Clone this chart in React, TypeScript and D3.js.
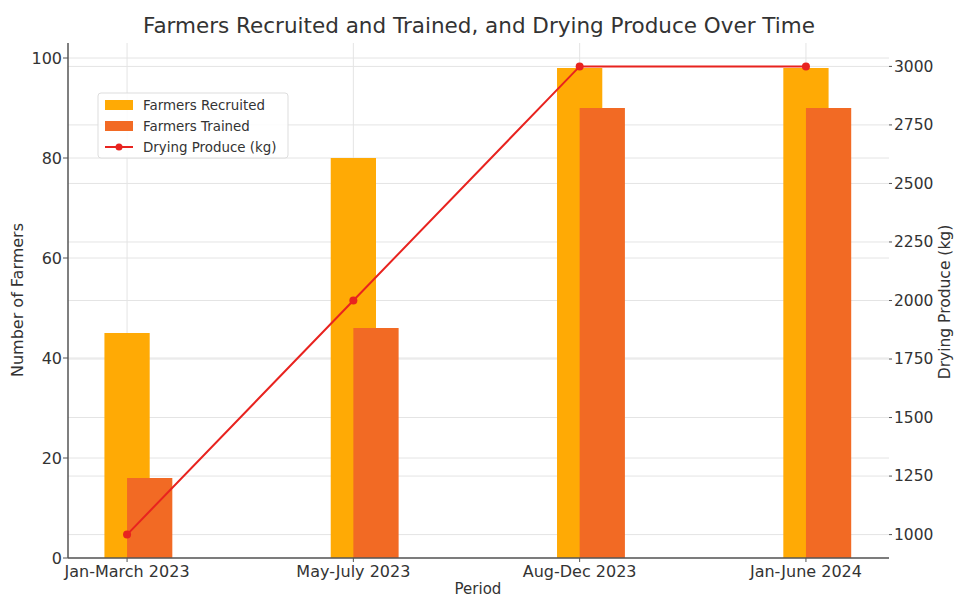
import React from "react";
import * as d3 from "d3";

const categories = ["Jan-March 2023", "May-July 2023", "Aug-Dec 2023", "Jan-June 2024"];
const farmersRecruited = [45, 80, 98, 98];
const farmersTrained = [16, 46, 90, 90];
const dryingProduce = [1000, 2000, 3000, 3000];
const leftTicks = [0, 20, 40, 60, 80, 100];
const rightTicks = [1000, 1250, 1500, 1750, 2000, 2250, 2500, 2750, 3000];

const W = 955;
const H = 597;
const plot = { left: 68, right: 889, top: 43, bottom: 558 };
const FONT = "DejaVu Sans, sans-serif";
const C_REC = "#FFAA05";
const C_TRN = "#F26A24";
const C_LINE = "#E8231F";
const GRID = "#e4e4e4";
const TEXT = "#333";

export default function App() {
  const x = d3.scaleLinear().domain([-0.261, 3.367]).range([plot.left, plot.right]);
  const yL = d3.scaleLinear().domain([0, 103]).range([plot.bottom, plot.top]);
  const yR = d3.scaleLinear().domain([900, 3100]).range([plot.bottom, plot.top]);
  const bw = 0.2;
  const line = d3
    .line<number>()
    .x((_, i) => x(i))
    .y((d) => yR(d));

  return (
    <svg width={W} height={H} style={{ position: "absolute", left: 0, top: 0, background: "#fff" }}>
      <rect x={0} y={0} width={W} height={H} fill="#fff" />
      {/* grids */}
      {categories.map((_, i) => (
        <line key={"vg" + i} x1={x(i)} x2={x(i)} y1={plot.top} y2={plot.bottom} stroke={GRID} strokeWidth={1} />
      ))}
      {leftTicks.map((t) => (
        <line key={"lg" + t} x1={plot.left} x2={plot.right} y1={yL(t)} y2={yL(t)} stroke={GRID} strokeWidth={1} />
      ))}
      {rightTicks.map((t) => (
        <line key={"rg" + t} x1={plot.left} x2={plot.right} y1={yR(t)} y2={yR(t)} stroke={GRID} strokeWidth={1} />
      ))}
      {/* bars */}
      {farmersRecruited.map((v, i) => (
        <rect key={"r" + i} x={x(i - bw / 2)} width={x(bw) - x(0)} y={yL(v)} height={yL(0) - yL(v)} fill={C_REC} />
      ))}
      {farmersTrained.map((v, i) => (
        <rect key={"t" + i} x={x(i)} width={x(bw) - x(0)} y={yL(v)} height={yL(0) - yL(v)} fill={C_TRN} />
      ))}
      {/* line */}
      <path d={line(dryingProduce) || ""} fill="none" stroke={C_LINE} strokeWidth={2} />
      {dryingProduce.map((v, i) => (
        <circle key={"p" + i} cx={x(i)} cy={yR(v)} r={4} fill={C_LINE} />
      ))}
      {/* spines */}
      <line x1={plot.left} x2={plot.left} y1={plot.top} y2={plot.bottom} stroke="#555" strokeWidth={1.5} />
      <line x1={plot.left} x2={plot.right} y1={plot.bottom} y2={plot.bottom} stroke="#555" strokeWidth={1.5} />
      {/* left ticks */}
      {leftTicks.map((t) => (
        <g key={"lt" + t}>
          <line x1={plot.left - 5} x2={plot.left} y1={yL(t)} y2={yL(t)} stroke="#555" />
          <text x={plot.left - 6} y={yL(t)} dy="0.35em" textAnchor="end" fontFamily={FONT} fontSize={16} fill={TEXT}>
            {t}
          </text>
        </g>
      ))}
      {/* right ticks */}
      {rightTicks.map((t) => (
        <g key={"rt" + t}>
          <line x1={plot.right} x2={plot.right + 3} y1={yR(t)} y2={yR(t)} stroke="#555" />
          <text x={plot.right + 5} y={yR(t)} dy="0.35em" textAnchor="start" fontFamily={FONT} fontSize={15.5} fill={TEXT}>
            {t}
          </text>
        </g>
      ))}
      {/* x ticks */}
      {categories.map((c, i) => (
        <g key={"xt" + i}>
          <line x1={x(i)} x2={x(i)} y1={plot.bottom} y2={plot.bottom + 4} stroke="#555" />
          <text x={x(i)} y={plot.bottom + 19} textAnchor="middle" fontFamily={FONT} fontSize={16} fill={TEXT}>
            {c}
          </text>
        </g>
      ))}
      {/* axis labels */}
      <text x={478} y={594} textAnchor="middle" fontFamily={FONT} fontSize={15} fill={TEXT}>
        Period
      </text>
      <text
        transform={`translate(23, 300) rotate(-90)`}
        textAnchor="middle"
        fontFamily={FONT}
        fontSize={16}
        fill={TEXT}
      >
        Number of Farmers
      </text>
      <text
        transform={`translate(950, 302) rotate(-90)`}
        textAnchor="middle"
        fontFamily={FONT}
        fontSize={15.5}
        fill={TEXT}
      >
        Drying Produce (kg)
      </text>
      {/* title */}
      <text x={479} y={33} textAnchor="middle" fontFamily={FONT} fontSize={21.5} fill={TEXT}>
        Farmers Recruited and Trained, and Drying Produce Over Time
      </text>
      {/* legend */}
      <g>
        <rect x={98} y={93} width={190} height={65} fill="#fff" fillOpacity={0.85} stroke="#ddd" rx={3} />
        <rect x={105} y={100} width={28} height={10} fill={C_REC} />
        <text x={143} y={105} dy="0.35em" fontFamily={FONT} fontSize={13.4} fill={TEXT}>Farmers Recruited</text>
        <rect x={105} y={121} width={28} height={10} fill={C_TRN} />
        <text x={143} y={126} dy="0.35em" fontFamily={FONT} fontSize={13.4} fill={TEXT}>Farmers Trained</text>
        <line x1={105} x2={133} y1={147} y2={147} stroke={C_LINE} strokeWidth={2} />
        <circle cx={119} cy={147} r={3.5} fill={C_LINE} />
        <text x={143} y={147} dy="0.35em" fontFamily={FONT} fontSize={13.4} fill={TEXT}>Drying Produce (kg)</text>
      </g>
    </svg>
  );
}
